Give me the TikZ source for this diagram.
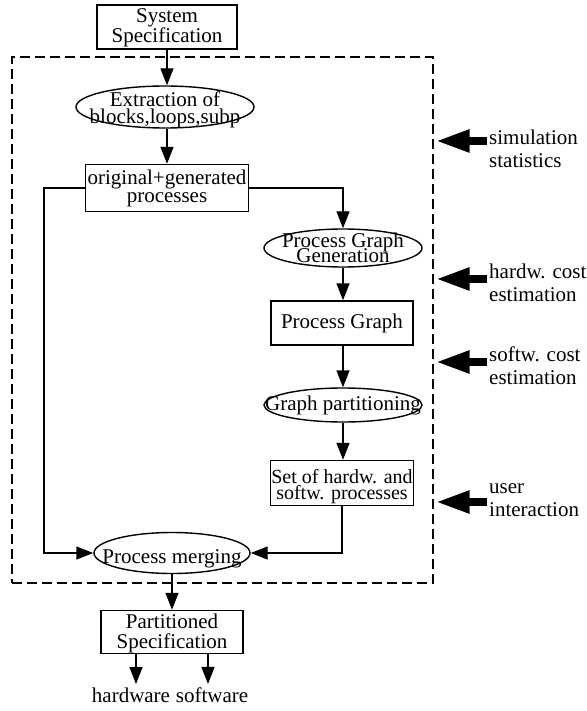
\documentclass[tikz,border=0pt]{standalone}
\usepackage{fontspec}
\setmainfont{Liberation Serif}
\usetikzlibrary{positioning,arrows.meta,shapes.geometric}

\begin{document}
\begin{tikzpicture}[x=1pt,y=-1pt,font=\fontsize{21}{18}\selectfont,
  box/.style={draw,line width=1.4pt,inner sep=0pt,align=center},
  oval/.style={ellipse,draw,line width=1.4pt,inner sep=0pt},
  ovaltext/.style={align=center,inner sep=0pt},
  flow/.style={line width=1.4pt,-{Triangle[length=17pt,width=13pt]}},
  fat/.style={line width=8pt,-{Triangle[length=34pt,width=21pt]},shorten >=2pt},
  side/.style={anchor=west,align=left,inner sep=2pt,font=\fontsize{21}{23}\selectfont}]
\useasboundingbox (0,0) rectangle (586,711);

% dashed frame round the partitioning steps
\node[draw,dash pattern=on 10pt off 5pt,line width=1.1pt,minimum width=421pt,minimum height=526pt] (frame) at (222.5,320) {};

\node[box,minimum width=140pt,minimum height=44pt,text height=36.3pt] (spec) at (167,27) {System\\Specification};
\node[oval,minimum width=178pt,minimum height=42pt,label={[ovaltext,yshift=-3pt]center:{Extraction of\\[-1pt]blocks,loops,subp}}] (extr) at (165,107) {};
\node[box,minimum width=163pt,minimum height=47pt] (orig) at (167,188) {original+generated\\processes};
\node[oval,minimum width=158pt,minimum height=38pt,label={[ovaltext]center:{Process Graph\\[-5pt]Generation}}] (pgg) at (343,248) {};
\node[box,minimum width=142pt,minimum height=44pt] (pgraph) at (342,323) {Process Graph};
\node[oval,minimum width=158pt,minimum height=34pt,label={[ovaltext]center:{Graph partitioning}}] (gpart) at (343,405) {};
\node[box,minimum width=143pt,minimum height=45pt,text height=37.5pt,font=\fontsize{20}{16}\selectfont] (hwsw) at (342,483) {Set of hardw. and\\softw. processes};
\node[oval,minimum width=156pt,minimum height=41pt,label={[ovaltext,yshift=-6pt]center:{Process merging}}] (merge) at (172,553) {};
\node[box,minimum width=142pt,minimum height=43pt,text height=37.3pt,font=\fontsize{21}{20}\selectfont] (parted) at (172,632) {Partitioned\\Specification};
\node (hw) at (131,695) {hardware};
\node (sw) at (212,695) {software};

% inputs from outside
\node[side] (simstat) at (487,148.5) {simulation\\statistics};
\node[side] (hcost) at (487,283) {hardw. cost\\estimation};
\node[side] (scost) at (487,365.5) {softw. cost\\estimation};
\node[side] (user) at (487,500.5) {user\\interaction};
\draw[fat] ([yshift=7.5pt]simstat.west) -- ([yshift=7.5pt]simstat.west -| frame.east);
\draw[fat] ([yshift=4pt]hcost.west) -- ([yshift=4pt]hcost.west -| frame.east);
\draw[fat] ([yshift=3.5pt]scost.west) -- ([yshift=3.5pt]scost.west -| frame.east);
\draw[fat] ([yshift=-1.5pt]user.west) -- ([yshift=-1.5pt]user.west -| frame.east);

% flow
\draw[flow] (spec.south) -- (spec.south |- extr.north);
\draw[flow] (extr.south -| orig.north) -- (orig.north);
\draw[flow] (orig.east) -| (pgg.north);
\draw[flow] (orig.west) -- ++(-41,0) |- (merge.west);
\draw[flow] (pgg.south) -- (pgraph.north -| pgg.south);
\draw[flow] (pgraph.south -| gpart.north) -- (gpart.north);
\draw[flow] (gpart.south) -- (hwsw.north -| gpart.south);
\draw[flow] (hwsw.south) |- (merge.east);
\draw[flow] (merge.south) -- (parted.north);
\draw[flow] ([xshift=-36pt]parted.south) -- ([xshift=-36pt]parted.south |- hw.north);
\draw[flow] ([xshift=36pt]parted.south) -- ([xshift=36pt]parted.south |- sw.north);
\end{tikzpicture}
\end{document}
